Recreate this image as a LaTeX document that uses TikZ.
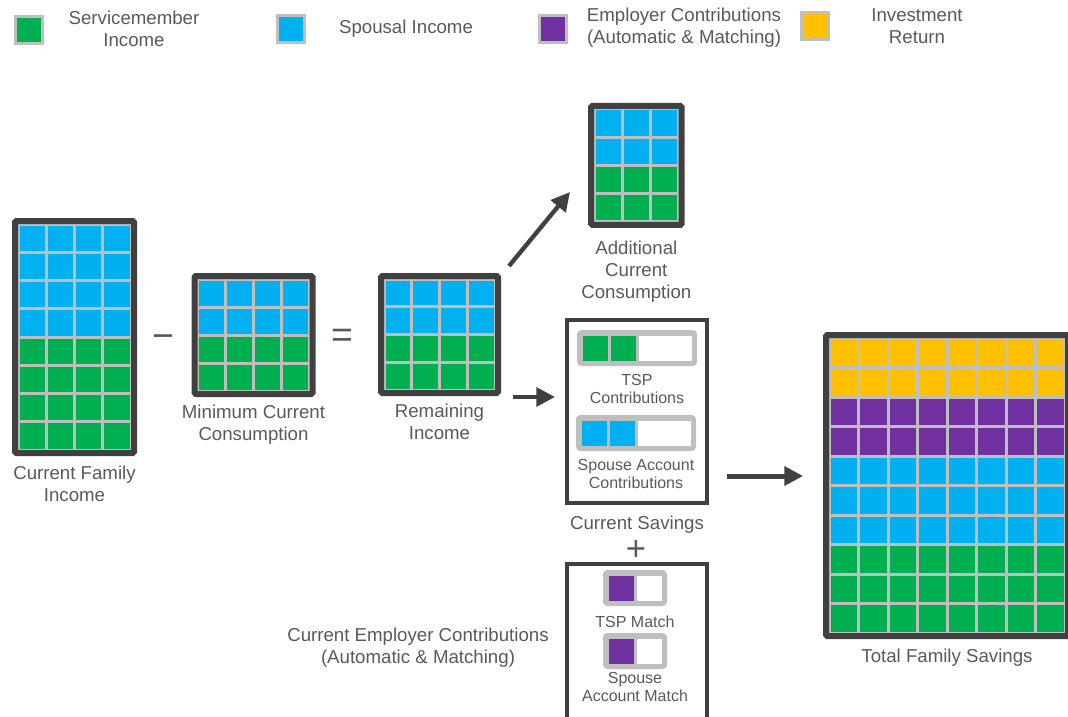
\documentclass[tikz,border=0pt]{standalone}
\usepackage{fontspec}
\setmainfont{Liberation Sans}
\usetikzlibrary{arrows.meta}
\usetikzlibrary{positioning}

\definecolor{smgreen}{HTML}{00B050}
\definecolor{spblue}{HTML}{00B0F0}
\definecolor{empurple}{HTML}{7030A0}
\definecolor{invgold}{HTML}{FFC000}
\definecolor{gapgrey}{HTML}{BFBFBF}
\definecolor{framegrey}{HTML}{404040}
\definecolor{textgrey}{HTML}{595959}

% block of unit cells in a dark frame
% #1 name, #2 #3 top left of the cells, #4 cell pitch, #5 columns, #6 rows, #7 row colours from the top
\newcommand{\cellblock}[7]{%
  \node[frame, minimum width={(#5*#4+6)*0.75pt}, minimum height={(#6*#4+6)*0.75pt}]
    (#1) at ({#2+#5*#4/2},{#3+#6*#4/2}) {};
  \foreach \rowfill [count=\rw from 0] in {#7}
    \foreach \cl in {1,...,#5}
      \fill[\rowfill] ({#2+(\cl-1)*#4+1.5},{#3+\rw*#4+1.5}) rectangle ++({#4-3},{#4-3});
}

% account bar with some slots filled
% #1 name, #2 #3 top left of the slots, #4 slots, #5 filled slots, #6 colour
\newcommand{\slotbar}[6]{%
  \node[bar, minimum width={(#4*28+4)*0.75pt}, minimum height={32*0.75pt}]
    (#1) at ({#2+#4*14},{#3+14}) {};
  \foreach \sl in {1,...,#5}
    \fill[#6] ({#2+(\sl-1)*28+1.5},{#3+1.5}) rectangle ++(25,25);
  \fill[white] ({#2+#5*28+1.5},{#3+1.5}) rectangle ({#2+#4*28-1.5},{#3+26.5});
}

\begin{document}
\begin{tikzpicture}[
    x=0.75pt, y=-0.75pt,
    frame/.style={draw=framegrey, fill=gapgrey, line width=4.5pt, inner sep=0pt, rounded corners=1pt},
    box/.style={draw=framegrey, line width=3pt, inner sep=0pt},
    bar/.style={draw=gapgrey, fill=gapgrey, line width=3pt, inner sep=0pt, rounded corners=2pt},
    key/.style={draw=gapgrey, line width=2.25pt, minimum size=20.25pt, inner sep=0pt},
    caption/.style={text=textgrey, align=center, inner sep=1pt, font=\fontsize{14}{16.5}\selectfont},
    small/.style={text=textgrey, align=center, inner sep=1pt, font=\fontsize{12}{13.5}\selectfont},
    sign/.style={text=textgrey, anchor=base, inner sep=0pt, font=\fontsize{28}{28}\selectfont},
    flow/.style={draw=framegrey, line width=3.25pt, -{Triangle[length=14pt, width=14pt]}}
  ]
  \path[use as bounding box, clip] (0,0) rectangle (1068,717);

  % legend
  \node[key, fill=smgreen] (keysm) at (29,30) {};
  \node[caption] (keysmtext) at (134,29) {Servicemember\\Income};
  \node[key, fill=spblue] (keysp) at (291,29) {};
  \node[caption] (keysptext) at (406,29) {Spousal Income};
  \node[key, fill=empurple] (keyem) at (553,29) {};
  \node[caption] (keyemtext) at (684,28) {Employer Contributions\\(Automatic \& Matching)};
  \node[key, fill=invgold] (keyinv) at (815,26) {};
  \node[caption] (keyinvtext) at (917,26) {Investment\\Return};

  % income - consumption = remaining
  \cellblock{income}{18}{224}{28.25}{4}{8}{spblue,spblue,spblue,spblue,smgreen,smgreen,smgreen,smgreen}
  \node[caption, below=6pt of income] (incometext) {Current Family\\Income};
  \node[sign] (minus) at (163,348) {−};
  \cellblock{mincons}{197.5}{279}{28}{4}{4}{spblue,spblue,smgreen,smgreen}
  \node[caption, below=5pt of mincons] (minconstext) {Minimum Current\\Consumption};
  \node[sign] (equals) at (342,347) {=};
  \cellblock{remain}{384}{279}{27.75}{4}{4}{spblue,spblue,smgreen,smgreen}
  \node[caption, below=5pt of remain] (remaintext) {Remaining\\Income};

  \cellblock{addcons}{594}{109}{28.2}{3}{4}{spblue,spblue,smgreen,smgreen}
  \node[caption, below=9pt of addcons] (addconstext) {Additional\\Current\\Consumption};

  % savings accounts
  \node[box, minimum width=105pt, minimum height=137.25pt] (savings) at (637,411.5) {};
  \slotbar{tspbar}{581}{334}{4}{2}{smgreen}
  \node[small, below=5pt of tspbar] (tsptext) {TSP\\Contributions};
  \slotbar{spousebar}{580}{419}{4}{2}{spblue}
  \node[small, below=5pt of spousebar] (spousetext) {Spouse Account\\Contributions};
  \node[caption, below=7pt of savings] (savingstext) {Current Savings};
  \node[sign, font=\fontsize{26}{26}\selectfont] (plus) at (636,560) {+};

  % employer money
  \node[box, minimum width=105pt, minimum height=132pt] (employer) at (636.5,652) {};
  \slotbar{tspmatch}{607}{574}{2}{1}{empurple}
  \node[small, below=6pt of tspmatch] (tspmatchtext) {TSP Match};
  \slotbar{spousematch}{607}{637}{2}{1}{empurple}
  \node[small, below=1.5pt of spousematch] (spousematchtext) {Spouse\\Account Match};
  \node[caption] (employertext) at (418,648) {Current Employer Contributions\\(Automatic \& Matching)};

  % total
  \cellblock{total}{829}{338}{29.5}{8}{10}{invgold,invgold,empurple,empurple,spblue,spblue,spblue,smgreen,smgreen,smgreen}
  \node[caption, below=6pt of total] (totaltext) {Total Family Savings};

  % arrows
  \coordinate (spendfrom) at (509,266);
  \coordinate (spendto) at (570,192);
  \coordinate (savefrom) at (513,397);
  \coordinate (saveto) at (555,397);
  \coordinate (growfrom) at (727,476);
  \coordinate (growto) at (803,476);
  \draw[flow] (spendfrom) -- (spendto);
  \draw[flow] (savefrom) -- (saveto);
  \draw[flow, line width=3.75pt] (growfrom) -- (growto);
\end{tikzpicture}
\end{document}
